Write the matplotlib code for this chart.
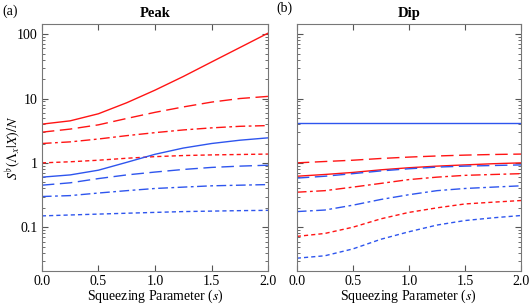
import matplotlib
matplotlib.use("Agg")
import matplotlib.pyplot as plt
import numpy as np

plt.rcParams['font.family'] = ['Liberation Serif', 'DejaVu Serif']
plt.rcParams['mathtext.fontset'] = 'stix'

# squeezing parameter
s = [0.0, 0.25, 0.5, 0.75, 1.0, 1.25, 1.5, 1.75, 2.0]

# (a) Peak
peak_red_solid = [4.0, 4.5, 5.8, 8.6, 13.5, 22.0, 37.0, 62.0, 104.0]
peak_red_dash = [3.0, 3.35, 3.9, 4.9, 6.1, 7.4, 8.8, 10.0, 10.8]
peak_red_dashdot = [2.0, 2.12, 2.35, 2.65, 2.95, 3.25, 3.5, 3.7, 3.8]
peak_red_dot = [1.0, 1.04, 1.1, 1.18, 1.25, 1.3, 1.33, 1.35, 1.37]
peak_blue_solid = [0.6, 0.65, 0.77, 1.02, 1.36, 1.7, 2.0, 2.25, 2.45]
peak_blue_dash = [0.45, 0.49, 0.57, 0.65, 0.72, 0.79, 0.85, 0.89, 0.92]
peak_blue_dashdot = [0.3, 0.31, 0.34, 0.37, 0.40, 0.42, 0.44, 0.45, 0.46]
peak_blue_dot = [0.15, 0.155, 0.16, 0.165, 0.17, 0.175, 0.178, 0.181, 0.183]

# (b) Dip
dip_blue_solid = [4.1, 4.1, 4.1, 4.1, 4.1, 4.1, 4.1, 4.1, 4.1]
dip_red_dash = [1.0, 1.05, 1.1, 1.17, 1.23, 1.28, 1.32, 1.35, 1.37]
dip_red_solid = [0.62, 0.66, 0.71, 0.78, 0.84, 0.89, 0.93, 0.97, 1.0]
dip_blue_dash = [0.58, 0.62, 0.68, 0.75, 0.81, 0.86, 0.89, 0.91, 0.93]
dip_red_dashdot = [0.35, 0.37, 0.42, 0.48, 0.55, 0.60, 0.64, 0.66, 0.68]
dip_blue_dashdot = [0.175, 0.185, 0.22, 0.27, 0.32, 0.37, 0.40, 0.42, 0.44]
dip_red_dot = [0.072, 0.08, 0.10, 0.135, 0.17, 0.2, 0.23, 0.245, 0.26]
dip_blue_dot = [0.033, 0.036, 0.046, 0.065, 0.085, 0.108, 0.127, 0.14, 0.152]

red = '#ff1414'
blue = '#2e55ee'
solid = '-'
dash = (0, (9, 4))
dashdot = (0, (7, 2.5, 2, 2.5))
dot = (0, (3, 2.2))

fig = plt.figure(figsize=(5.3, 3.05), dpi=100)
ax1 = fig.add_axes([0.079, 0.112, 0.427, 0.81])
ax2 = fig.add_axes([0.560, 0.112, 0.423, 0.81])

lw = 1.0
ax1.plot(s, peak_red_solid, color=red, ls=solid, lw=lw)
ax1.plot(s, peak_red_dash, color=red, ls=dash, lw=lw)
ax1.plot(s, peak_red_dashdot, color=red, ls=dashdot, lw=lw)
ax1.plot(s, peak_red_dot, color=red, ls=dot, lw=lw)
ax1.plot(s, peak_blue_solid, color=blue, ls=solid, lw=lw)
ax1.plot(s, peak_blue_dash, color=blue, ls=dash, lw=lw)
ax1.plot(s, peak_blue_dashdot, color=blue, ls=dashdot, lw=lw)
ax1.plot(s, peak_blue_dot, color=blue, ls=dot, lw=lw)

ax2.plot(s, dip_blue_solid, color=blue, ls=solid, lw=lw)
ax2.plot(s, dip_red_dash, color=red, ls=dash, lw=lw)
ax2.plot(s, dip_red_solid, color=red, ls=solid, lw=lw)
ax2.plot(s, dip_blue_dash, color=blue, ls=dash, lw=lw)
ax2.plot(s, dip_red_dashdot, color=red, ls=dashdot, lw=lw)
ax2.plot(s, dip_blue_dashdot, color=blue, ls=dashdot, lw=lw)
ax2.plot(s, dip_red_dot, color=red, ls=dot, lw=lw)
ax2.plot(s, dip_blue_dot, color=blue, ls=dot, lw=lw)

for ax in (ax1, ax2):
    ax.set_yscale('log')
    ax.set_ylim(0.021, 145)
    ax.set_xlim(0, 2)
    ax.set_xticks([0.0, 0.5, 1.0, 1.5, 2.0])
    ax.set_xticklabels(['0.0', '0.5', '1.0', '1.5', '2.0'])
    ax.tick_params(which='both', direction='in', top=True, right=True,
                   labelsize=10, color='#555555', pad=3)
    ax.tick_params(which='major', length=4)
    ax.tick_params(which='minor', length=2)
    for sp in ax.spines.values():
        sp.set_color('#777777')
    ax.set_xlabel('Squeezing Parameter ($s$)', fontsize=10, labelpad=0)

ax1.set_yticks([0.1, 1, 10, 100])
ax1.set_yticklabels(['0.1', '1', '10', '100'])
ax2.set_yticks([0.1, 1, 10, 100])
ax2.set_yticklabels([])
ax2.tick_params(which='both', labelleft=False)

ax1.set_ylabel(r'$S^{\flat}(\Lambda_x|X)/N$', fontsize=10)
ax1.yaxis.set_label_coords(-0.09, 0.5)
ax1.set_title('Peak', fontsize=10.5, fontweight='bold', pad=5)
ax2.set_title('Dip', fontsize=10.5, fontweight='bold', pad=5)

fig.text(0.004, 0.962, '(a)', fontsize=10, va='center')
fig.text(0.522, 0.972, '(b)', fontsize=10, va='center')

fig.savefig('out.png', dpi=100)
